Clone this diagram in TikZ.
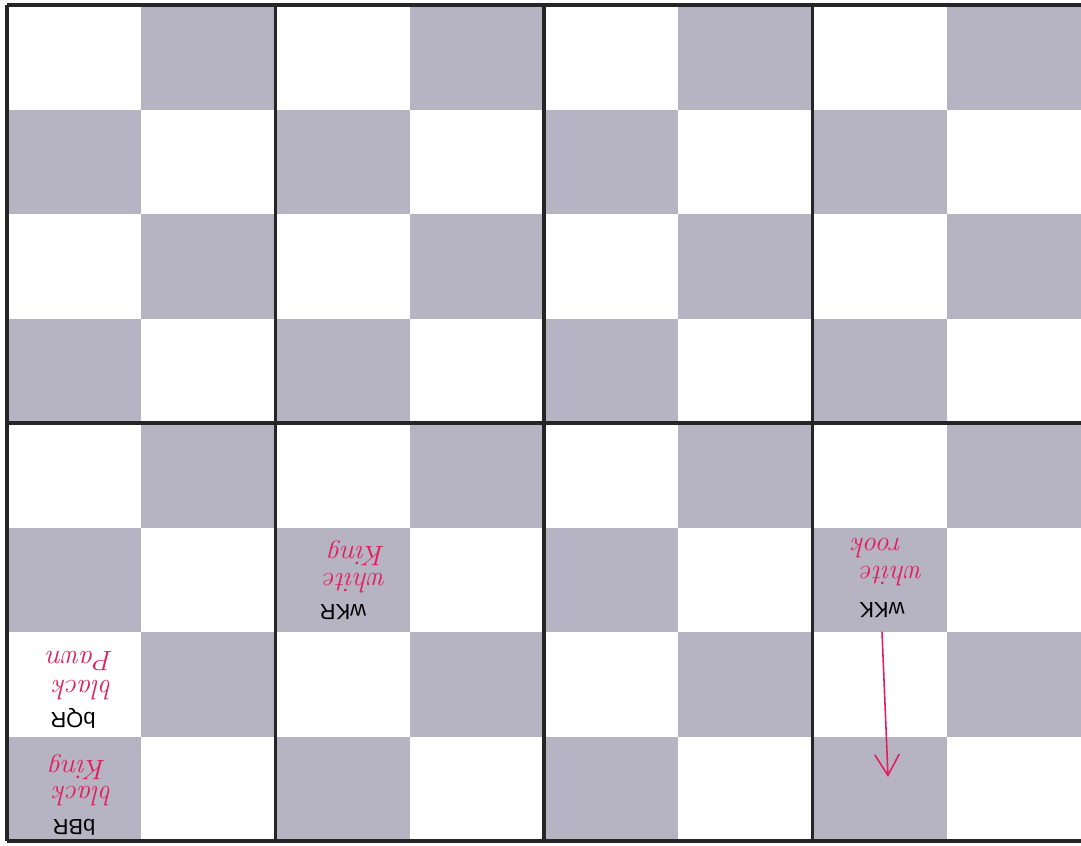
\documentclass[tikz,border=0pt]{standalone}
\usepackage{fontspec}
\setsansfont{Liberation Sans}
\usepackage{xcolor}
\usepackage{tikz}
\usetikzlibrary{arrows.meta}

\definecolor{darksq}{RGB}{182,180,194}
\definecolor{pen}{RGB}{226,30,92}

\begin{document}
\begin{tikzpicture}[x=0.02cm, y=-0.02cm,
    piece/.style={rotate=180, font=\sffamily\fontsize{12.5}{15}\selectfont, inner sep=1pt},
    scribble/.style={rotate=180, text=pen, font=\itshape\fontsize{16}{18}\selectfont, inner sep=0pt},
    board/.style={line width=2.2pt, black!85}]
  \useasboundingbox (0,0) rectangle (1081,845);
  % dark squares
  \foreach \r in {0,...,7}{
    \foreach \c in {0,...,7}{
      \pgfmathtruncatemacro\odd{mod(\r+\c,2)}
      \ifnum\odd=1
        \fill[darksq] (7+\c*134.25, 5+\r*104.5) rectangle ++(134.25,104.5);
      \fi
    }
  }
  % block lines
  \draw[board] (7,5) -- (1081,5);
  \draw[board] (7,423) -- (1081,423);
  \draw[board] (7,841) -- (1081,841);
  \draw[board] (7,5) -- (7,841);
  \draw[board] (275.5,5) -- (275.5,841);
  \draw[board] (544,5) -- (544,841);
  \draw[board] (812.5,5) -- (812.5,841);

  \node[piece] (bbr) at (74,827) {bBR};
  \node[scribble] (bbrcol) at (83,796) {black};
  \node[scribble] (bbrname) at (78,767) {King};

  \node[piece] (bqr) at (73,718) {bQR};
  \node[scribble] (bqrcol) at (83,690) {black};
  \node[scribble] (bqrname) at (80,661) {Pawn};

  \node[piece] (wkr) at (343,612) {wKR};
  \node[scribble] (wkrcol) at (355,583) {white};
  \node[scribble] (wkrname) at (357,553) {King};

  \node[piece] (wkk) at (882,610) {wKK};
  \node[scribble] (wkkcol) at (892,576) {white};
  \node[scribble] (wkkname) at (877,548) {rook};

  \coordinate (kkend) at (888,777);
  \draw[pen, line width=0.9pt, -{Straight Barb[length=12pt, width=14pt]}] (wkk.north) ++(0,12) -- (kkend);
\end{tikzpicture}
\end{document}
